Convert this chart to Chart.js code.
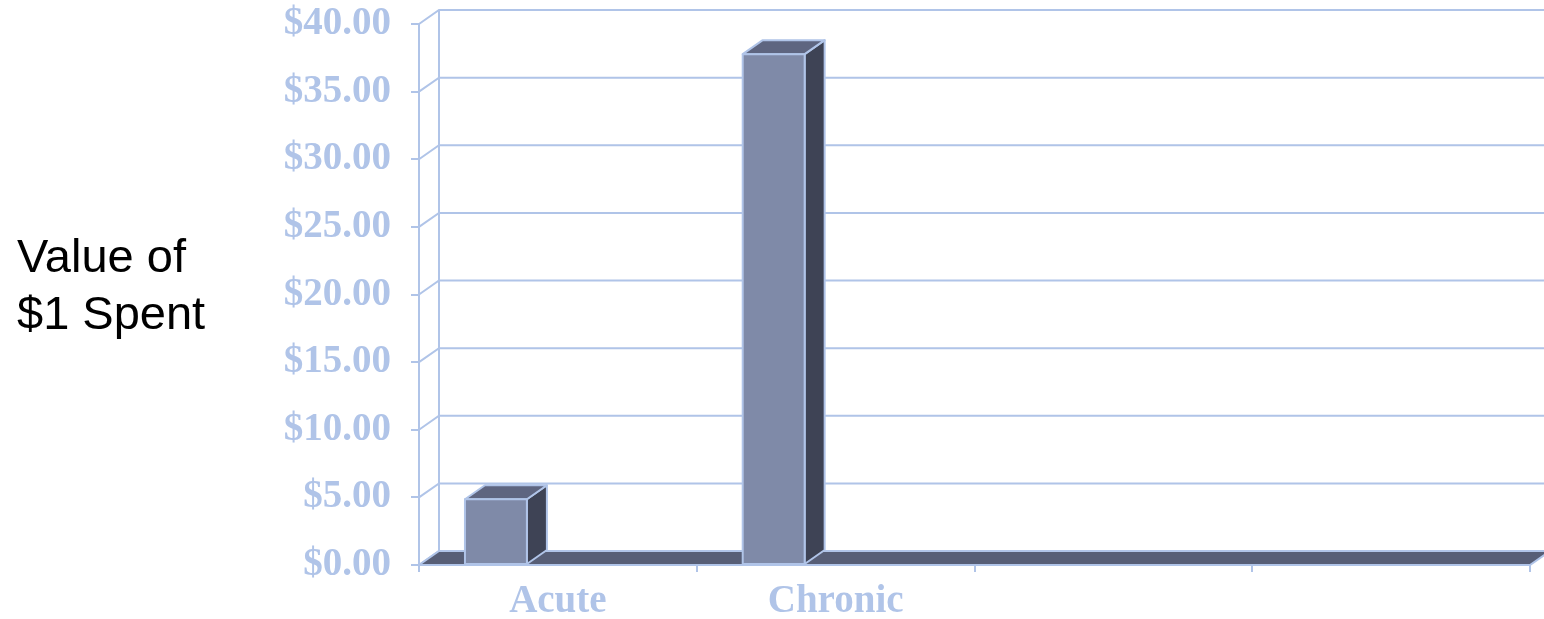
<!DOCTYPE html>
<html>
<head>
<meta charset="utf-8">
<script src="https://cdn.jsdelivr.net/npm/chart.js@4/dist/chart.umd.min.js"></script>
<style>
  body { margin: 0; background: #fff; }
  #wrap { position: relative; width: 1544px; height: 619px; }
  #yTitle {
    position: absolute; left: 17px; top: 227px;
    font-family: 'Liberation Sans', Arial, sans-serif;
    font-size: 47px; line-height: 57px; color: #000;
  }
</style>
</head>
<body>
<div id="wrap">
  <canvas id="chart"></canvas>
  <div id="yTitle">Value of<br>$1 Spent</div>
</div>
<script>
// data
const categories = ['Acute', 'Chronic', '', ''];
const valuePerDollar = [4.86, 37.77, null, null];
const yMin = 0;
const yMax = 40;
const yStep = 5;

// look
const LINE = '#b0c4e8';
const FRONT = '#7f8aa8';
const TOP = '#5e6580';
const SIDE = '#3e4355';
const FLOOR = '#575e76';
const DX = 20, DY = -14;   // depth offset of the back wall

const depth3d = {
  id: 'depth3d',
  beforeDatasetsDraw(chart) {
    const ctx = chart.ctx
    const a = chart.chartArea
    const y = chart.scales.y
    ctx.save()
    ctx.strokeStyle = LINE
    ctx.lineWidth = 2
    // back wall gridlines with the little diagonals from the front axis
    y.ticks.forEach(t => {
      const py = y.getPixelForValue(t.value)
      ctx.beginPath()
      ctx.moveTo(a.left, py)
      ctx.lineTo(a.left + DX, py + DY)
      ctx.lineTo(a.right + DX, py + DY)
      ctx.stroke()
    })
    ctx.beginPath()
    ctx.moveTo(a.left + DX, y.getPixelForValue(yMax) + DY)
    ctx.lineTo(a.left + DX, y.getPixelForValue(yMin) + DY)
    ctx.stroke()
    // floor
    const by = y.getPixelForValue(yMin)
    ctx.fillStyle = FLOOR
    ctx.beginPath()
    ctx.moveTo(a.left, by)
    ctx.lineTo(a.right, by)
    ctx.lineTo(a.right + DX, by + DY)
    ctx.lineTo(a.left + DX, by + DY)
    ctx.closePath()
    ctx.fill()
    ctx.stroke()
    ctx.restore()
  },
  afterDatasetsDraw(chart) {
    const ctx = chart.ctx
    const meta = chart.getDatasetMeta(0)
    ctx.save()
    ctx.strokeStyle = LINE
    ctx.lineWidth = 2
    ctx.lineJoin = 'round'
    meta.data.forEach((bar, i) => {
      if (valuePerDollar[i] == null) return
      const p = bar.getProps(['x', 'y', 'base', 'width'], true)
      const w = p.width
      const fx = p.x - 1.5 * w
      const top = p.y, base = p.base
      // side
      ctx.fillStyle = SIDE
      ctx.beginPath()
      ctx.moveTo(fx + w, top)
      ctx.lineTo(fx + w + DX, top + DY)
      ctx.lineTo(fx + w + DX, base + DY)
      ctx.lineTo(fx + w, base)
      ctx.closePath()
      ctx.fill(); ctx.stroke()
      // top
      ctx.fillStyle = TOP
      ctx.beginPath()
      ctx.moveTo(fx, top)
      ctx.lineTo(fx + DX, top + DY)
      ctx.lineTo(fx + w + DX, top + DY)
      ctx.lineTo(fx + w, top)
      ctx.closePath()
      ctx.fill(); ctx.stroke()
      // front
      ctx.fillStyle = FRONT
      ctx.fillRect(fx, top, w, base - top)
      ctx.strokeRect(fx, top, w, base - top)
    })
    ctx.restore()
  }
};

const tickFont = { family: "'Liberation Serif', 'Times New Roman', serif", size: 39, weight: 'bold' };

new Chart(document.getElementById('chart'), {
  type: 'bar',
  data: {
    labels: categories,
    datasets: [{
      label: 'Value of $1 Spent',
      data: valuePerDollar,
      backgroundColor: 'rgba(0,0,0,0)',
      borderWidth: 0,
      barPercentage: 0.223,
      categoryPercentage: 1
    }]
  },
  options: {
    responsive: true,
    maintainAspectRatio: false,
    devicePixelRatio: 1,
    animation: false,
    layout: { padding: { left: 0, top: 24, right: 14, bottom: 0 } },
    plugins: { legend: { display: false }, tooltip: { enabled: false } },
    scales: {
      x: {
        offset: true,
        grid: { offset: true, drawOnChartArea: false, drawTicks: true, tickLength: 7, color: LINE, lineWidth: 2 },
        border: { display: true, color: LINE, width: 2 },
        ticks: { color: LINE, font: tickFont, padding: 7, maxRotation: 0 },
        afterFit: s => { s.height = 54 }
      },
      y: {
        min: yMin,
        max: yMax,
        grid: { drawOnChartArea: false, drawTicks: true, tickLength: 8, color: LINE, lineWidth: 2 },
        border: { display: true, color: LINE, width: 2 },
        ticks: {
          stepSize: yStep,
          color: LINE,
          font: tickFont,
          padding: 20,
          callback: v => '$' + Number(v).toFixed(2)
        },
        afterFit: s => { s.width = 419; s.paddingTop = 0; s.paddingBottom = 0 }
      }
    }
  },
  plugins: [depth3d]
});
</script>
</body>
</html>
